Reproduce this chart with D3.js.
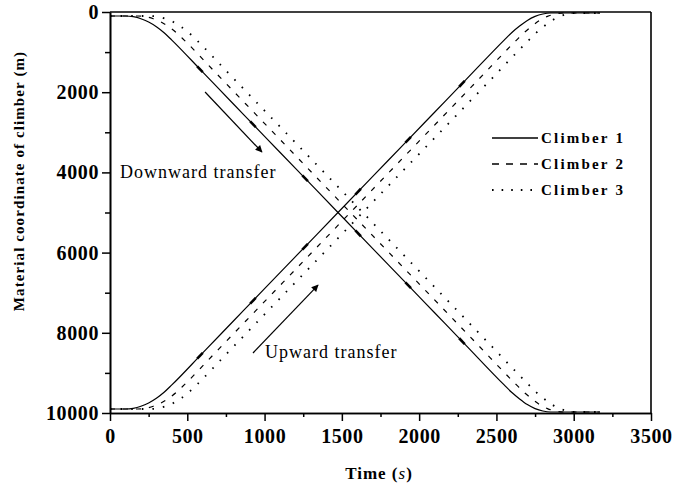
<!DOCTYPE html>
<html><head><meta charset="utf-8">
<script src="https://cdn.jsdelivr.net/npm/d3@7"></script>
<style>
html,body{margin:0;padding:0;background:#fff;}
svg{display:block;}
text{font-family:"Liberation Serif","Times New Roman",serif;fill:#000;}
</style></head>
<body>
<svg id="chart" width="674" height="490"></svg>
<script>
// ---- data ----
const seriesNames = ["Climber 1", "Climber 2", "Climber 3"];
const time1 = [0,100,150,200,250,300,350,400,600,800,1000,1200,1475,1700,1900,2100,2300,2550,2600,2650,2700,2750,2800,2850,3170];
const time2 = [0,180,230,280,330,380,430,480,680,880,1080,1280,1555,1780,1980,2180,2380,2630,2680,2730,2780,2830,2880,2930,3170];
const time3 = [0,260,310,360,410,460,510,560,760,960,1160,1360,1635,1860,2060,2260,2460,2710,2760,2810,2860,2910,2960,3010,3170];
const downCoord = [100,100,117,167,250,367,517,700,1500,2300,3100,3900,5000,5900,6700,7500,8300,9300,9490,9650,9790,9890,9950,9975,9975];
const upCoord   = [9900,9900,9883,9833,9750,9633,9483,9300,8500,7700,6900,6100,5000,4100,3300,2500,1700,700,510,350,210,110,50,25,25];
const markTimes = [582, 925, 1262, 1605, 1929, 2277];
const xTicks = [0,500,1000,1500,2000,2500,3000,3500];
const xMinor = [250,750,1250,1750,2250,2750,3250];
const yTicks = [0,2000,4000,6000,8000,10000];
const yMinor = [1000,3000,5000,7000,9000];

const svg = d3.select("#chart");
const L = 110, R = 651, T = 12, B = 413;
const x = d3.scaleLinear().domain([0,3500]).range([L,R]);
const y = d3.scaleLinear().domain([0,10000]).range([T,B]);

const dashes = [null, "5,8", "1.6,9"];
const legendDashes = [null, "7,7", "1.6,8"];
const widths = [1.2, 1.2, 1.8];
const times = [time1, time2, time3];

const line = d3.line().x(d=>x(d[0])).y(d=>y(d[1])).curve(d3.curveMonotoneX);

times.forEach((tt,i)=>{
  [downCoord, upCoord].forEach(vals=>{
    const pts = tt.map((t,k)=>[t, vals[k]]);
    svg.append("path").attr("d", line(pts))
      .attr("fill","none").attr("stroke","#000")
      .attr("stroke-width", widths[i])
      .attr("stroke-dasharray", dashes[i]);
  });
});

// small thick marks on Climber 1 curves
function interp(tt, vals, t){
  for(let k=0;k<tt.length-1;k++){
    if(t>=tt[k] && t<=tt[k+1]){
      const f=(t-tt[k])/(tt[k+1]-tt[k]);
      return vals[k]+f*(vals[k+1]-vals[k]);
    }
  }
  return vals[vals.length-1];
}
[downCoord, upCoord].forEach(vals=>{
  markTimes.forEach(t=>{
    svg.append("line")
      .attr("x1", x(t-18)).attr("y1", y(interp(time1, vals, t-18)))
      .attr("x2", x(t+18)).attr("y2", y(interp(time1, vals, t+18)))
      .attr("stroke","#000").attr("stroke-width",2.6);
  });
});

// frame (top and right)
svg.append("line").attr("x1",L).attr("x2",R).attr("y1",T).attr("y2",T).attr("stroke","#000").attr("stroke-width",1.6);
svg.append("line").attr("x1",R).attr("x2",R).attr("y1",T).attr("y2",B).attr("stroke","#000").attr("stroke-width",1.6);

// axes
const yAx = svg.append("g").attr("transform",`translate(${L},0)`)
  .call(d3.axisLeft(y).tickValues(yTicks).tickSize(8).tickSizeOuter(0).tickPadding(3).tickFormat(d3.format("d")));
const yMin = svg.append("g").attr("transform",`translate(${L},0)`)
  .call(d3.axisLeft(y).tickValues(yMinor).tickSize(5).tickSizeOuter(0).tickFormat(""));
const xAx = svg.append("g").attr("transform",`translate(0,${B})`)
  .call(d3.axisBottom(x).tickValues(xTicks).tickSize(8).tickSizeOuter(0).tickPadding(8).tickFormat(d3.format("d")));
const xMin = svg.append("g").attr("transform",`translate(0,${B})`)
  .call(d3.axisBottom(x).tickValues(xMinor).tickSize(4).tickSizeOuter(0).tickFormat(""));
[yAx,yMin,xAx,xMin].forEach(g=>{
  g.selectAll("path.domain").attr("stroke","#000").attr("stroke-width",1.6);
  g.selectAll(".tick line").attr("stroke","#000").attr("stroke-width",1.5);
  g.selectAll("text").attr("font-family","Liberation Serif").attr("font-size",20)
    .attr("font-weight","bold").attr("letter-spacing","0.6px").attr("fill","#000");
});

// axis titles
svg.append("text").attr("x",379).attr("y",479).attr("text-anchor","middle")
  .attr("font-size",17).attr("font-weight","bold").attr("letter-spacing","1px")
  .html('Time (<tspan font-style="italic" font-weight="normal">s</tspan>)');
svg.append("text").attr("transform","translate(24,181) rotate(-90)").attr("text-anchor","middle")
  .attr("font-size",15).attr("font-weight","bold").attr("letter-spacing","1.1px")
  .text("Material coordinate of climber (m)");

// annotations
const defs = svg.append("defs");
defs.append("marker").attr("id","arr").attr("viewBox","0 0 10 10").attr("refX",9).attr("refY",5)
  .attr("markerWidth",9).attr("markerHeight",7).attr("markerUnits","userSpaceOnUse").attr("orient","auto")
  .append("path").attr("d","M0,0L10,5L0,10z").attr("fill","#000");
const annDown = {t0:615, c0:1995, t1:983, c1:3492, tx:65, cx:4140, label:"Downward transfer"};
const annUp = {t0:925, c0:8504, t1:1346, c1:6809, tx:1003, cx:8630, label:"Upward transfer"};
[annDown, annUp].forEach(a=>{
  svg.append("line").attr("x1",x(a.t0)).attr("y1",y(a.c0)).attr("x2",x(a.t1)).attr("y2",y(a.c1))
    .attr("stroke","#000").attr("stroke-width",1.2).attr("marker-end","url(#arr)");
  svg.append("text").attr("x",x(a.tx)).attr("y",y(a.cx)).attr("font-size",18).attr("letter-spacing","1px").text(a.label);
});

// legend
seriesNames.forEach((n,i)=>{
  const ly = 138 + i*26;
  svg.append("line").attr("x1",492).attr("x2",538).attr("y1",ly).attr("y2",ly)
    .attr("stroke","#000").attr("stroke-width",widths[i]+0.2).attr("stroke-dasharray",legendDashes[i]);
  svg.append("text").attr("x",541).attr("y",ly+5).attr("font-size",15).attr("font-weight","bold")
    .attr("letter-spacing","2.2px").text(n);
});
</script>
</body></html>
